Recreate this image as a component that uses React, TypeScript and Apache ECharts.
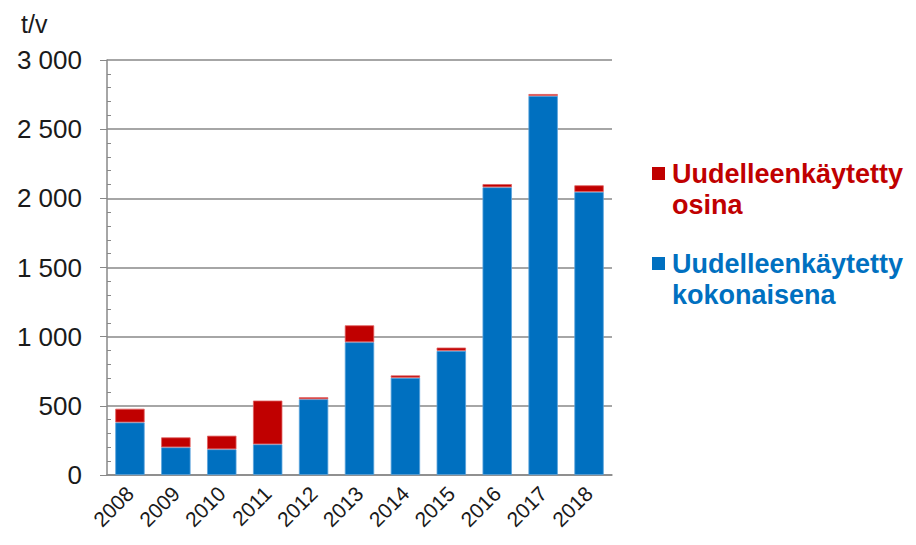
import React, { useEffect, useRef } from "react";
import * as echarts from "echarts";

const years = ["2008", "2009", "2010", "2011", "2012", "2013", "2014", "2015", "2016", "2017", "2018"];
const whole = [380, 200, 186, 222, 548, 960, 703, 898, 2080, 2740, 2046];
const parts = [99, 72, 98, 316, 14, 122, 17, 23, 23, 14, 48];
const yTicks = { min: 0, max: 3000, interval: 500 };
const seriesNames = ["Uudelleenkäytetty kokonaisena", "Uudelleenkäytetty osina"];
const unitLabel = "t/v";

const BLUE = "#0070C0";
const RED = "#C00000";
const FONT = "'Liberation Sans', Arial, sans-serif";

export default function App() {
  const ref = useRef<HTMLDivElement>(null);
  useEffect(() => {
    document.body.style.margin = "0";
    if (!ref.current) return;
    const chart = echarts.init(ref.current, null, { renderer: "svg" });
    const fmt = (v: number) => String(v).replace(/\B(?=(\d{3})+(?!\d))/g, " ");
    chart.setOption({
      animation: false,
      backgroundColor: "#ffffff",
      grid: { left: 107, top: 60, right: 304, bottom: 70 },
      xAxis: {
        type: "category",
        data: years,
        axisLine: { lineStyle: { color: "#888888", width: 1.5 } },
        axisTick: { show: false },
        axisLabel: {
          rotate: 45,
          fontFamily: FONT,
          fontSize: 21,
          color: "#1a1a1a",
          margin: 15,
          interval: 0,
        },
      },
      yAxis: [
        {
          type: "value",
          min: yTicks.min,
          max: yTicks.max,
          interval: yTicks.interval,
          axisLine: { show: true, lineStyle: { color: "#888888", width: 1.5 } },
          axisTick: { show: true, length: 7, lineStyle: { color: "#888888" } },
          axisLabel: {
            fontFamily: FONT,
            fontSize: 26,
            color: "#1a1a1a",
            margin: 25,
            formatter: (v: number) => fmt(v),
          },
          splitLine: { show: true, lineStyle: { color: "#888888", width: 1.5 } },
        },
        {
          type: "value",
          position: "left",
          min: yTicks.min,
          max: yTicks.max,
          interval: yTicks.interval,
          axisLine: { show: false },
          axisTick: { show: false, inside: true },
          minorTick: { show: true, splitNumber: 5, length: 4, lineStyle: { color: "#888888" } },
          axisLabel: { show: false },
          splitLine: { show: false },
        },
      ],
      series: [
        {
          name: seriesNames[0],
          type: "bar",
          stack: "total",
          data: whole,
          barWidth: "64%",
          itemStyle: { color: BLUE, borderColor: "#5aa3dc", borderWidth: 0.8 },
        },
        {
          name: seriesNames[1],
          type: "bar",
          stack: "total",
          data: parts,
          barWidth: "64%",
          itemStyle: { color: RED, borderColor: "#e06060", borderWidth: 0.8 },
        },
      ],
      graphic: [
        {
          type: "text",
          x: 21,
          y: 11,
          style: { text: unitLabel, fontFamily: FONT, fontSize: 25, fill: "#1a1a1a" },
        },
        { type: "rect", shape: { x: 652, y: 167, width: 13, height: 13 }, style: { fill: RED } },
        {
          type: "text",
          x: 672,
          y: 158,
          style: {
            text: "Uudelleenkäytetty\nosina",
            fontFamily: FONT,
            fontSize: 27,
            fontWeight: "bold",
            lineHeight: 31,
            fill: RED,
          },
        },
        { type: "rect", shape: { x: 652, y: 257, width: 13, height: 13 }, style: { fill: BLUE } },
        {
          type: "text",
          x: 672,
          y: 248,
          style: {
            text: "Uudelleenkäytetty\nkokonaisena",
            fontFamily: FONT,
            fontSize: 27,
            fontWeight: "bold",
            lineHeight: 31,
            fill: BLUE,
          },
        },
      ],
    });
    return () => chart.dispose();
  }, []);
  return <div ref={ref} style={{ width: 916, height: 545 }} />;
}
